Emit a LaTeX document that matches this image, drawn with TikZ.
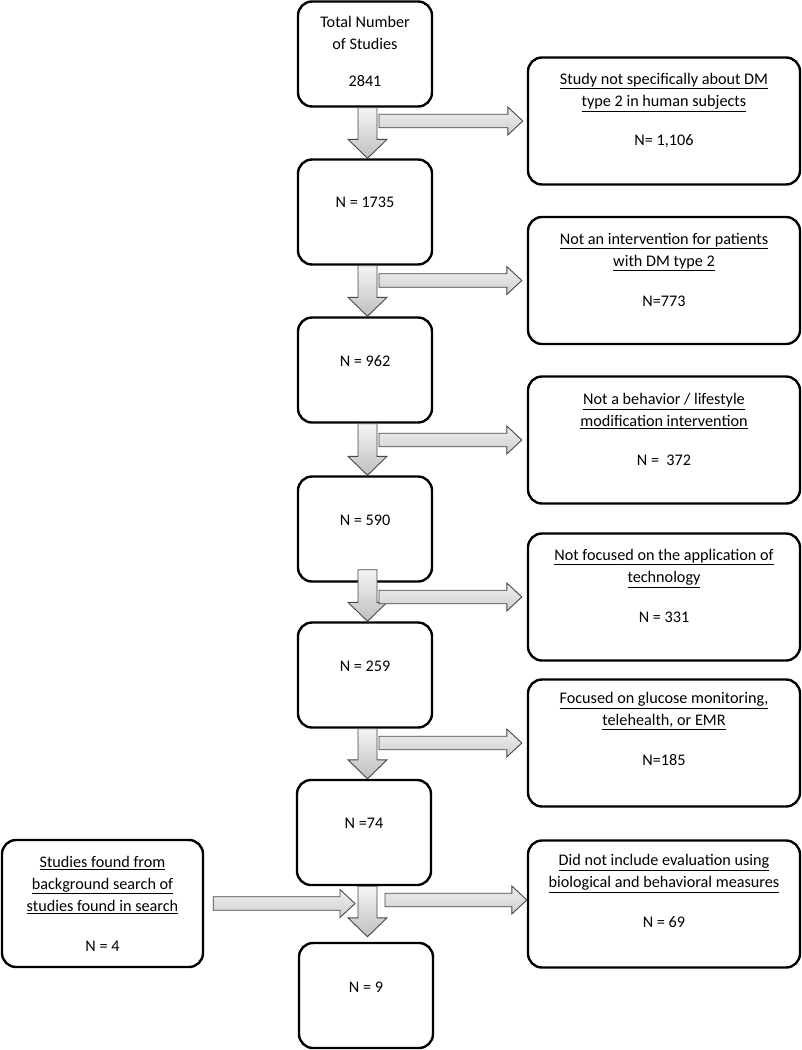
\documentclass[tikz,border=0pt]{standalone}
\usepackage{fontspec}
\setmainfont{Carlito}
\usetikzlibrary{calc}
\tikzset{
  box/.style={draw=black, line width=2.4pt, rounded corners=14pt, fill=white},
  mainbox/.style={box, minimum width=134pt, minimum height=105pt},
  sidebox/.style={box, minimum width=272pt, minimum height=127pt},
  txt/.style={align=center, inner sep=0pt, font=\fontsize{16.2}{22}\selectfont},
  downshade/.style={draw=gray!55!black, line width=0.9pt, top color=gray!8, bottom color=gray!50, line join=miter},
  rightshade/.style={draw=gray!55!black, line width=0.9pt, top color=gray!12, bottom color=gray!38, line join=miter},
}
\newcommand\downblock[2]{\path[downshade] let \p1=(#1), \p2=(#2) in
  (\x1-9.5pt,\y1) -- (\x1-9.5pt,\y2+19pt) -- (\x1-19.5pt,\y2+19pt) -- (\x1,\y2)
  -- (\x1+19.5pt,\y2+19pt) -- (\x1+9.5pt,\y2+19pt) -- (\x1+9.5pt,\y1) -- cycle;}
\newcommand\rightblock[2]{\path[rightshade] let \p1=(#1), \p2=(#2) in
  (\x1,\y2+6.75pt) -- (\x2-15pt,\y2+6.75pt) -- (\x2-15pt,\y2+14pt) -- (\x2,\y2)
  -- (\x2-15pt,\y2-14pt) -- (\x2-15pt,\y2-6.75pt) -- (\x1,\y2-6.75pt) -- cycle;}
\begin{document}
\begin{tikzpicture}[x=1pt,y=-1pt]
\useasboundingbox (0,0) rectangle (802,1050);
% main column
\node[mainbox] (m1) at (365,54) {};
\node[mainbox] (m2) at (365,212) {};
\node[mainbox] (m3) at (365,370) {};
\node[mainbox] (m4) at (365,529) {};
\node[mainbox] (m5) at (365,675) {};
\node[mainbox] (m6) at (364,832.5) {};
\node[mainbox] (m7) at (366,995.5) {};
\node[txt] (t1) at ($(m1.north)+(0,33)$) {Total Number\\of Studies};
\node[txt] (t1n) at ($(m1.north)+(0,81)$) {2841};
\node[txt] (t2) at ($(m2.north)+(0,44)$) {N = 1735};
\node[txt] (t3) at ($(m3.north)+(0,45)$) {N = 962};
\node[txt] (t4) at ($(m4.north)+(0,45)$) {N = 590};
\node[txt] (t5) at ($(m5.north)+(0,45)$) {N = 259};
\node[txt] (t6) at ($(m6.north)+(0,44)$) {N =74};
\node[txt] (t7) at ($(m7.north)+(0,45)$) {N = 9};
% side boxes
\node[sidebox] (r1) at (664,121) {};
\node[sidebox] (r2) at (664,280.5) {};
\node[sidebox] (r3) at (664,440) {};
\node[sidebox] (r4) at (664,597) {};
\node[sidebox] (r5) at (664,743) {};
\node[sidebox] (r6) at (664,904) {};
\node[txt] (s1) at ($(r1.north)+(0,36)$) {\underline{Study not specifically about DM}\\\underline{type 2 in human subjects}};
\node[txt] (s1n) at ($(r1.north)+(0,85)$) {N= 1,106};
\node[txt] (s2) at ($(r2.north)+(0,36)$) {\underline{Not an intervention for patients}\\\underline{with DM type 2}};
\node[txt] (s2n) at ($(r2.north)+(0,85)$) {N=773};
\node[txt] (s3) at ($(r3.north)+(0,36)$) {\underline{Not a behavior / lifestyle}\\\underline{modification intervention}};
\node[txt] (s3n) at ($(r3.north)+(0,85)$) {N =\ \ 372};
\node[txt] (s4) at ($(r4.north)+(0,36)$) {\underline{Not focused on the application of}\\\underline{technology}};
\node[txt] (s4n) at ($(r4.north)+(0,85)$) {N = 331};
\node[txt] (s5) at ($(r5.north)+(0,33)$) {\underline{Focused on glucose monitoring,}\\\underline{telehealth, or EMR}};
\node[txt] (s5n) at ($(r5.north)+(0,82)$) {N=185};
\node[txt] (s6) at ($(r6.north)+(0,34)$) {\underline{Did not include evaluation using}\\\underline{biological and behavioral measures}};
\node[txt] (s6n) at ($(r6.north)+(0,83)$) {N = 69};
% left box
\node[box, minimum width=201pt, minimum height=127pt] (l1) at (102.5,903.5) {};
\node[txt] (l1t) at ($(l1.north)+(0,46)$) {\underline{Studies found from}\\\underline{background search of}\\\underline{studies found in search}};
\node[txt] (l1n) at ($(l1.north)+(0,107)$) {N = 4};
% down arrows
\downblock{$(m1.south)+(2.5,0)$}{$(m2.north)+(2.5,0)$}
\downblock{$(m2.south)+(2.5,0)$}{$(m3.north)+(2.5,0)$}
\downblock{$(m3.south)+(2.5,0)$}{$(m4.north)+(2.5,0)$}
\downblock{$(m4.south)+(2.5,-13)$}{$(m5.north)+(2.5,0)$}
\downblock{$(m5.south)+(2.5,0)$}{$(m6.north)+(2.5,0)$}
\downblock{$(m6.south)+(3.5,0)$}{$(m7.north)+(1.5,-5)$}
% right arrows
\rightblock{$(m1.south)+(14,0)$}{$(r1.west)+(-4,0)$}
\rightblock{$(m2.south)+(14,0)$}{$(r2.west)+(-5,0)$}
\rightblock{$(m3.south)+(14,0)$}{$(r3.west)+(-5,0)$}
\rightblock{$(m4.south)+(14,0)$}{$(r4.west)+(-5,0)$}
\rightblock{$(m5.south)+(14,0)$}{$(r5.west)+(-5,0)$}
\rightblock{$(m6.south)+(21,0)$}{$(r6.west)+(0,-4)$}
\rightblock{$(l1.east)+(9,0)$}{$(l1.east -| m6.south)+(-9,0)$}
\end{tikzpicture}
\end{document}
